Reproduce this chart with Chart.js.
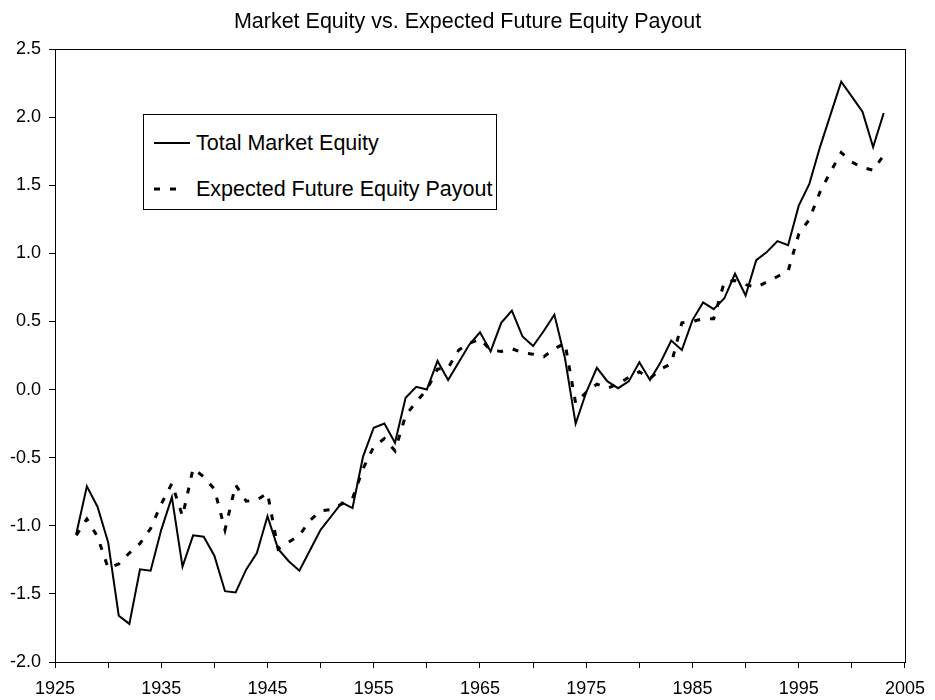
<!DOCTYPE html>
<html>
<head>
<meta charset="utf-8">
<script src="https://cdn.jsdelivr.net/npm/chart.js@4"></script>
<style>
    body { margin: 0; background: #fff; }
    #wrap { position: relative; width: 935px; height: 700px; }
    #legendBox {
        position: absolute; left: 143px; top: 114px; width: 354px; height: 96px;
        box-sizing: border-box; border: 1px solid #000; background: #fff;
        font-family: "Liberation Sans", Arial, sans-serif; font-size: 21.5px; color: #000;
    }
    .item { position: absolute; left: 10px; height: 24px; }
    .item svg { position: absolute; left: 0; top: 10px; }
    .item span { position: absolute; left: 42px; top: 0; line-height: 24px; white-space: nowrap; }
</style>
</head>
<body>
<div id="wrap">
    <canvas id="chart" width="935" height="700"></canvas>
    <div id="legendBox"></div>
</div>
<script>
const years = [];
for (let y = 1927; y <= 2003; y++) years.push(y);

// Total Market Equity (solid)
const marketEquity = [
    -1.06, -0.71, -0.86, -1.12, -1.66, -1.72, -1.32, -1.33, -1.03, -0.79,
    -1.30, -1.07, -1.08, -1.22, -1.48, -1.49, -1.32, -1.20, -0.93, -1.17,
    -1.26, -1.33, -1.18, -1.03, -0.93, -0.83, -0.87, -0.49, -0.28, -0.25,
    -0.39, -0.06, 0.02, 0.00, 0.21, 0.07, 0.20, 0.33, 0.42, 0.28,
    0.49, 0.58, 0.39, 0.32, 0.43, 0.55, 0.23, -0.25, -0.02, 0.16,
    0.06, 0.01, 0.06, 0.20, 0.07, 0.20, 0.36, 0.29, 0.51, 0.64,
    0.59, 0.67, 0.85, 0.69, 0.95, 1.01, 1.09, 1.06, 1.35, 1.51,
    1.78, 2.02, 2.26, 2.15, 2.04, 1.78, 2.03
];

// Expected Future Equity Payout (dashed)
const expectedPayout = [
    -1.07, -0.95, -1.08, -1.31, -1.28, -1.20, -1.13, -1.02, -0.84, -0.69,
    -0.93, -0.58, -0.64, -0.73, -1.03, -0.70, -0.82, -0.81, -0.76, -1.17,
    -1.12, -1.07, -0.96, -0.89, -0.88, -0.84, -0.80, -0.58, -0.42, -0.36,
    -0.45, -0.19, -0.09, 0.00, 0.15, 0.16, 0.29, 0.34, 0.37, 0.29,
    0.28, 0.30, 0.27, 0.26, 0.24, 0.30, 0.34, -0.10, -0.02, 0.04,
    0.01, 0.04, 0.09, 0.13, 0.08, 0.15, 0.19, 0.49, 0.50, 0.52,
    0.52, 0.79, 0.80, 0.77, 0.75, 0.79, 0.83, 0.87, 1.14, 1.25,
    1.45, 1.60, 1.74, 1.67, 1.63, 1.61, 1.72
];

const seriesNames = ['Total Market Equity', 'Expected Future Equity Payout'];
const xTickLabels = ['1925', '1935', '1945', '1955', '1965', '1975', '1985', '1995', '2005'];
const yTickLabels = ['-2.0', '-1.5', '-1.0', '-0.5', '0.0', '0.5', '1.0', '1.5', '2.0', '2.5'];

const FONT = '"Liberation Sans", Arial, sans-serif';

const frame = {
    id: 'frame',
    afterDraw(chart) {
        const a = chart.chartArea, ctx = chart.ctx;
        ctx.save();
        ctx.strokeStyle = '#000';
        ctx.lineWidth = 1;
        ctx.strokeRect(Math.round(a.left) + 0.5, Math.round(a.top) + 0.5,
            Math.round(a.right - a.left), Math.round(a.bottom - a.top));
        ctx.restore();
    }
};

const chart = new Chart(document.getElementById('chart'), {
    type: 'line',
    data: {
        datasets: [{
            label: seriesNames[0],
            data: years.map((y, i) => ({ x: y, y: marketEquity[i] })),
            borderColor: '#000',
            borderWidth: 2,
            pointRadius: 0,
            tension: 0,
            fill: false
        }, {
            label: seriesNames[1],
            data: years.map((y, i) => ({ x: y, y: expectedPayout[i] })),
            borderColor: '#000',
            borderWidth: 3,
            borderDash: [6, 10],
            pointRadius: 0,
            tension: 0,
            fill: false
        }]
    },
    options: {
        responsive: false,
        animation: false,
        devicePixelRatio: 1,
        layout: { padding: 0 },
        plugins: {
            legend: { display: false },
            tooltip: { enabled: false },
            title: {
                display: true,
                text: 'Market Equity vs. Expected Future Equity Payout',
                color: '#000',
                font: { family: FONT, size: 21.5, weight: 'normal', lineHeight: 1.2 },
                padding: { top: 9, bottom: 14.2 }
            }
        },
        scales: {
            x: {
                type: 'linear',
                min: 1925,
                max: 2005,
                afterFit: s => { s.height = 38; },
                ticks: {
                    stepSize: 5,
                    autoSkip: false,
                    maxRotation: 0,
                    color: '#000',
                    padding: 10,
                    font: { family: FONT, size: 18 },
                    callback: v => xTickLabels.includes(String(v)) ? String(v) : ''
                },
                grid: { drawOnChartArea: false, drawTicks: true, tickLength: 6, color: '#000' },
                border: { display: true, color: '#000', width: 1 }
            },
            y: {
                min: -2,
                max: 2.5,
                afterFit: s => { s.width = 55; },
                ticks: {
                    stepSize: 0.5,
                    color: '#000',
                    padding: 8,
                    font: { family: FONT, size: 18 },
                    callback: v => yTickLabels.find(t => parseFloat(t) === v) || ''
                },
                grid: { drawOnChartArea: false, drawTicks: true, tickLength: 6, color: '#000' },
                border: { display: true, color: '#000', width: 1 }
            },
            // empty spacer on the right so the plot ends at the same place as the original
            yRight: {
                position: 'right',
                display: true,
                afterFit: s => { s.width = 24; },
                ticks: { display: false },
                grid: { display: false, drawTicks: false },
                border: { display: false }
            }
        }
    },
    plugins: [frame]
});

// legend box inside the plot, built from the datasets
const box = document.getElementById('legendBox');
chart.data.datasets.forEach((ds, i) => {
    const item = document.createElement('div');
    item.className = 'item';
    item.style.top = (i === 0 ? 16 : 62) + 'px';
    const dash = ds.borderDash ? ds.borderDash.join(' ') : 'none';
    const len = ds.borderDash ? 23 : 36;
    item.innerHTML = '<svg width="36" height="4"><line x1="0" y1="2" x2="' + len + '" y2="2" stroke="#000" stroke-width="' +
        ds.borderWidth + '" stroke-dasharray="' + dash + '"/></svg>';
    const span = document.createElement('span');
    span.textContent = ds.label;
    item.appendChild(span);
    box.appendChild(item);
});
</script>
</body>
</html>
